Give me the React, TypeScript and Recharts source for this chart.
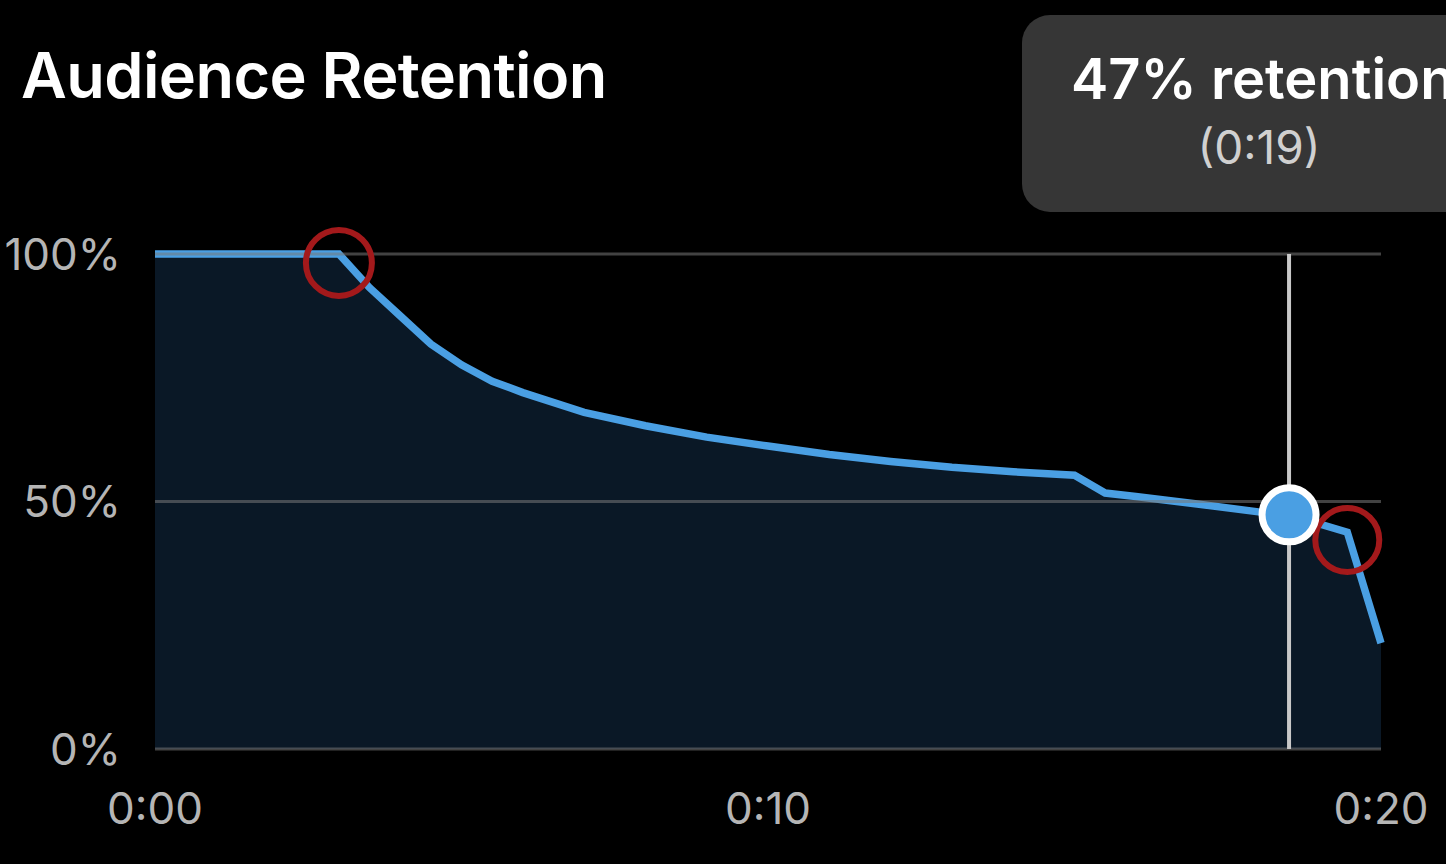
import {
  ComposedChart,
  Area,
  XAxis,
  YAxis,
  ReferenceLine,
  ReferenceDot,
} from 'recharts'

// seconds into the clip
const seconds = [0, 3, 3.5, 4, 4.5, 5, 5.5, 6, 7, 8, 9, 10, 11, 12, 13, 14, 15, 15.5, 16, 17, 18, 18.5, 19.45, 20]
// % of viewers still watching
const retention = [100, 100, 93.2, 87.5, 81.8, 77.6, 74.3, 72, 68, 65.3, 63, 61.2, 59.5, 58.1, 56.9, 56, 55.3, 51.7, 51, 49.5, 47.9, 47.3, 43.8, 21.4]

const yTicks = [0, 50, 100]
const xTicks = [0, 10, 20]

// red hand-drawn markers on the curve
const markerX = [3, 19.45]
const markerY = [98.2, 42.2]

const hoverX = 18.5
const hoverY = 47.3

const data = seconds.map((t, i) => ({ t, pct: retention[i] }))

const fmtTime = (v: number) => `0:${String(Math.round(v)).padStart(2, '0')}`

export default function App() {
  return (
    <div
      style={{
        position: 'absolute',
        left: 0,
        top: 0,
        width: 1446,
        height: 864,
        background: '#000',
        overflow: 'hidden',
        fontFamily: 'Inter, "Noto Sans", sans-serif',
      }}
    >
      <div
        style={{
          position: 'absolute',
          left: 21,
          top: 37,
          color: '#fff',
          fontSize: 63,
          fontWeight: 600,
          letterSpacing: -0.6,
        }}
      >
        Audience Retention
      </div>

      <ComposedChart
        width={1446}
        height={864}
        data={data}
        margin={{ top: 254, right: 65, bottom: 0, left: 0 }}
      >
        <XAxis
          dataKey="t"
          type="number"
          domain={[0, 20]}
          ticks={xTicks}
          tickFormatter={fmtTime}
          tick={{ fill: '#b5b5b5', fontSize: 44 }}
          tickLine={false}
          tickSize={0}
          tickMargin={44}
          axisLine={false}
          height={115}
        />
        <YAxis
          type="number"
          domain={[0, 100]}
          ticks={yTicks}
          tickFormatter={(v: number) => `${v}%`}
          tick={{ fill: '#b5b5b5', fontSize: 44 }}
          tickLine={false}
          tickSize={0}
          tickMargin={34}
          axisLine={false}
          width={155}
        />
        <Area
          type="linear"
          dataKey="pct"
          stroke="#4a9fe3"
          strokeWidth={7.5}
          fill="#0a1826"
          fillOpacity={1}
          isAnimationActive={false}
          activeDot={false}
        />
        {yTicks.map((y) => (
          <ReferenceLine key={y} y={y} stroke="rgba(120,120,120,0.55)" strokeWidth={3} />
        ))}
        <ReferenceLine x={hoverX} stroke="#c8c8c8" strokeWidth={4} />
        <ReferenceDot
          x={markerX[0]}
          y={markerY[0]}
          r={33}
          fill="none"
          stroke="#a3191b"
          strokeWidth={6}
        />
        <ReferenceDot
          x={markerX[1]}
          y={markerY[1]}
          r={32}
          fill="none"
          stroke="#a3191b"
          strokeWidth={6}
        />
        <ReferenceDot
          x={hoverX}
          y={hoverY}
          r={27}
          fill="#4a9fe3"
          stroke="#fff"
          strokeWidth={7}
        />
      </ComposedChart>

      <div
        style={{
          position: 'absolute',
          left: 1022,
          top: 15,
          width: 480,
          height: 197,
          background: '#363636',
          borderRadius: 28,
        }}
      >
        <div
          style={{
            position: 'absolute',
            left: 49,
            top: 30,
            color: '#fff',
            fontSize: 56,
            fontWeight: 600,
            whiteSpace: 'nowrap',
          }}
        >
          47% retention
        </div>
        <div
          style={{
            position: 'absolute',
            left: 0,
            width: 474,
            top: 104,
            textAlign: 'center',
            color: '#d0d0d0',
            fontSize: 46,
          }}
        >
          (0:19)
        </div>
      </div>
    </div>
  )
}
